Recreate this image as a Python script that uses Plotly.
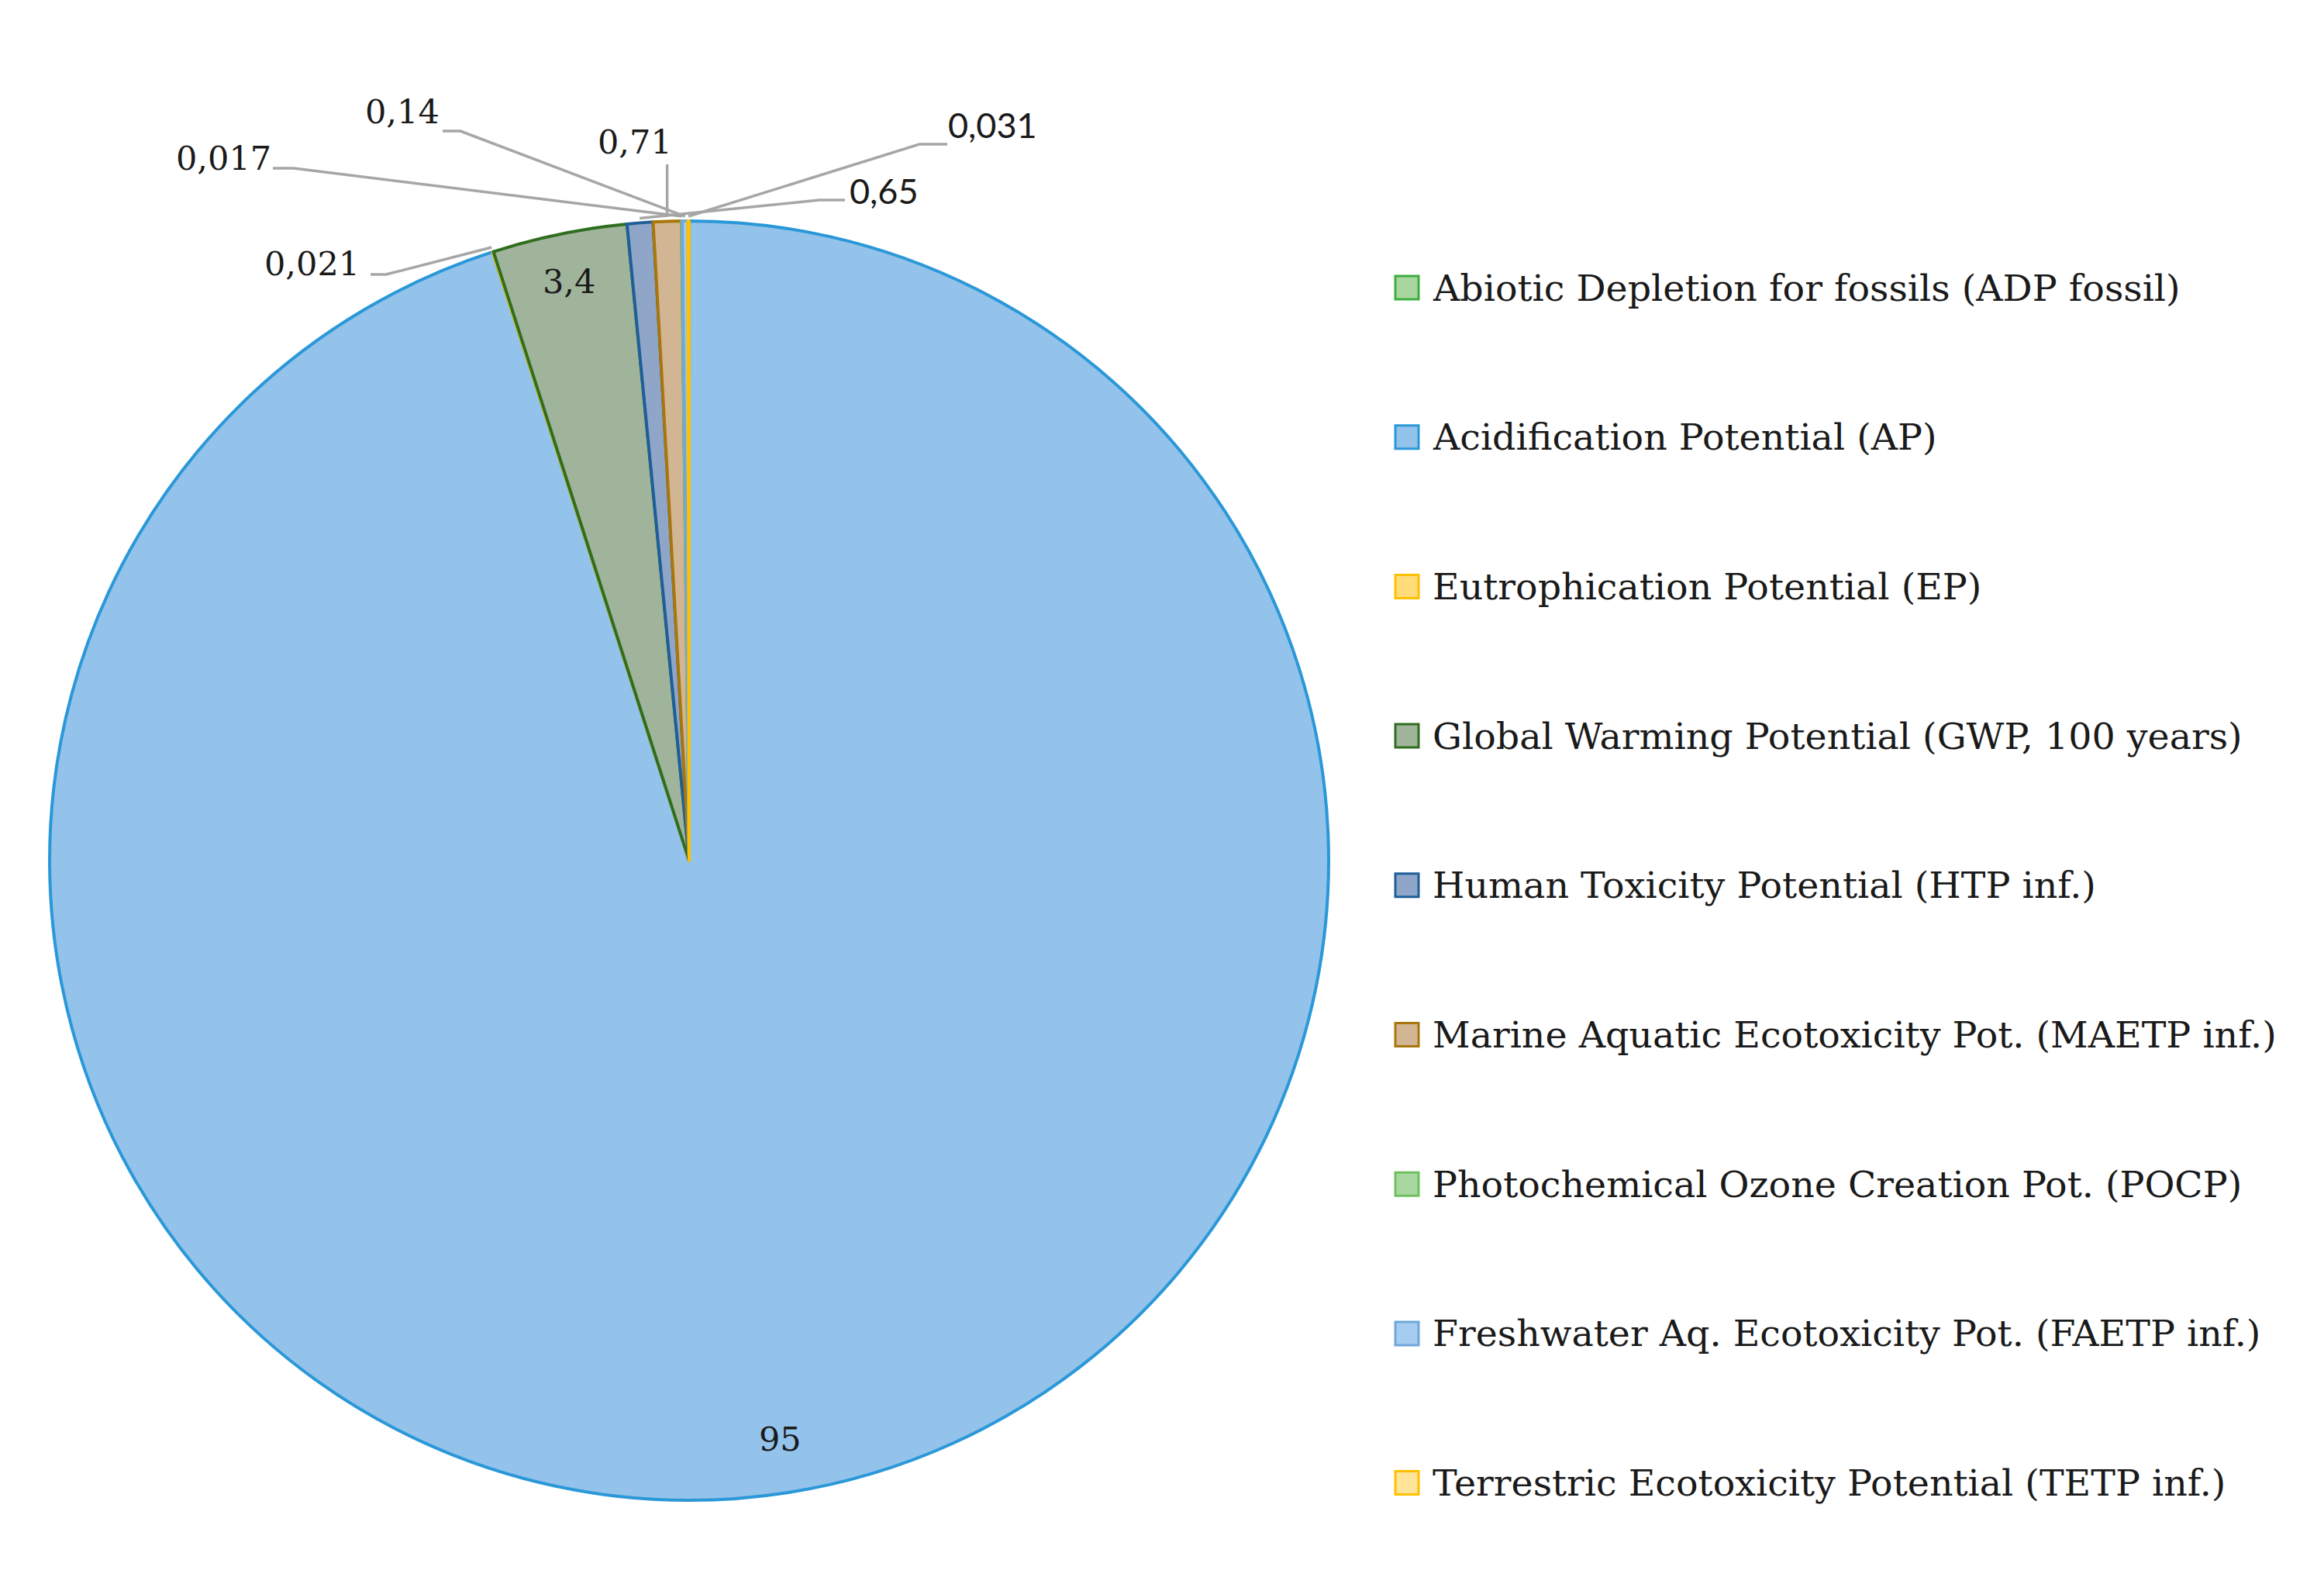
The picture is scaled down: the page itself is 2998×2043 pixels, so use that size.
import numpy as np
import plotly.graph_objects as go

# Dados do gráfico (percentuais por categoria de impacto)
categorias = [
    'Abiotic Depletion for fossils (ADP fossil)',
    'Acidification Potential (AP)',
    'Eutrophication Potential (EP)',
    'Global Warming Potential (GWP, 100 years)',
    'Human Toxicity Potential (HTP inf.)',
    'Marine Aquatic Ecotoxicity Pot. (MAETP inf.)',
    'Photochemical Ozone Creation Pot. (POCP)',
    'Freshwater Aq. Ecotoxicity Pot. (FAETP inf.)',
    'Terrestric Ecotoxicity Potential (TETP inf.)',
]
valores = [0.002, 95, 0.021, 3.4, 0.65, 0.71, 0.017, 0.14, 0.031]
rotulos = ['', '95', '0,021', '3,4', '0,65', '0,71', '0,017', '0,14', '0,031']

cores_preench = ['#a9d69e', '#93c2ea', '#ffdb7a', '#a0b49b', '#8fa6c9',
                 '#d2b593', '#a8d8a0', '#a6cdef', '#ffe49a']
cores_borda = ['#3cae3f', '#2a98d8', '#ffc000', '#2f6e1f', '#1f5f99',
               '#a8760a', '#70c060', '#6fa8dc', '#ffc000']

# Geometria da figura (pixels na tela; a página tem margem de 8 px)
W, H = 2998, 2043
MARGEM = 8
cx, cy, R = 889, 1110, 825


def px2paper(x, y):
    return (x - MARGEM) / W, 1 - (y - MARGEM) / H


def ponto_fatia(i, r):
    total = sum(valores)
    antes = sum(valores[:i])
    ang = 2 * np.pi * (antes + valores[i] / 2) / total
    return cx + r * np.sin(ang), cy - r * np.cos(ang)


fig = go.Figure()

x0, y0 = px2paper(cx - R, cy + R)
x1, y1 = px2paper(cx + R, cy - R)
fig.add_trace(go.Pie(
    values=valores, labels=categorias, sort=False, direction='clockwise',
    rotation=0, textinfo='none', showlegend=False,
    marker=dict(colors=cores_preench, line=dict(color=cores_borda, width=4)),
    domain=dict(x=[x0, x1], y=[y0, y1]),
))

serif = 'DejaVu Serif'
sans = 'Lato'

# Rótulos internos
for i, rr in [(1, 0.915), (3, 0.925)]:
    x, y = px2paper(*ponto_fatia(i, rr * R))
    fig.add_annotation(x=x, y=y, xref='paper', yref='paper', text=rotulos[i],
                       xanchor='center', yanchor='middle', showarrow=False,
                       font=dict(family=serif, size=43, color='#1a1a1a'))

# Rótulos externos: (índice, centro do texto, início da linha, cotovelo, fonte)
externos = [
    (2, (402, 340), (478, 354), (498, 354), serif),
    (6, (288, 204), (352, 217), (379, 217), serif),
    (7, (519, 144), (571, 169), (594, 169), serif),
    (5, (819, 183), None, None, serif),
    (8, (1280, 161), (1222, 186), (1186, 186), sans),
    (4, (1140, 246), (1090, 258), (1057, 258), sans),
]

for i, centro, ini, cot, fam in externos:
    fx, fy = ponto_fatia(i, R + 6)
    if ini is None:
        pts = [(fx, 212), (fx, fy)]
    else:
        pts = [ini, cot, (fx, fy)]
    caminho = 'M ' + ' L '.join('%.5f %.5f' % px2paper(*p) for p in pts)
    fig.add_shape(type='path', path=caminho, xref='paper', yref='paper',
                  line=dict(color='#a6a6a6', width=3.5))
    x, y = px2paper(*centro)
    fig.add_annotation(x=x, y=y, xref='paper', yref='paper', text=rotulos[i],
                       xanchor='center', yanchor='middle', showarrow=False,
                       font=dict(family=fam, size=43 if fam == serif else 45,
                                 color='#1a1a1a'))

# Legenda (quadrados com borda e texto), como no original
leg_x, leg_txt, leg_y, leg_passo, lado = 1800, 1846, 371, 192.7, 30
for k, (nome, cf, cb) in enumerate(zip(categorias, cores_preench, cores_borda)):
    yc = leg_y + k * leg_passo
    xa, ya = px2paper(leg_x, yc + lado / 2)
    xb, yb = px2paper(leg_x + lado, yc - lado / 2)
    fig.add_shape(type='rect', x0=xa, x1=xb, y0=ya, y1=yb, xref='paper', yref='paper',
                  fillcolor=cf, line=dict(color=cb, width=3))
    tx, ty = px2paper(leg_txt, yc)
    fig.add_annotation(x=tx, y=ty, xref='paper', yref='paper', text=nome,
                       xanchor='left', yanchor='middle', showarrow=False,
                       font=dict(family=serif, size=47.5, color='#1a1a1a'))

fig.update_layout(
    width=W, height=H, margin=dict(l=0, r=0, t=0, b=0),
    paper_bgcolor='white', plot_bgcolor='white', showlegend=False,
)

fig.write_html('out.html')
